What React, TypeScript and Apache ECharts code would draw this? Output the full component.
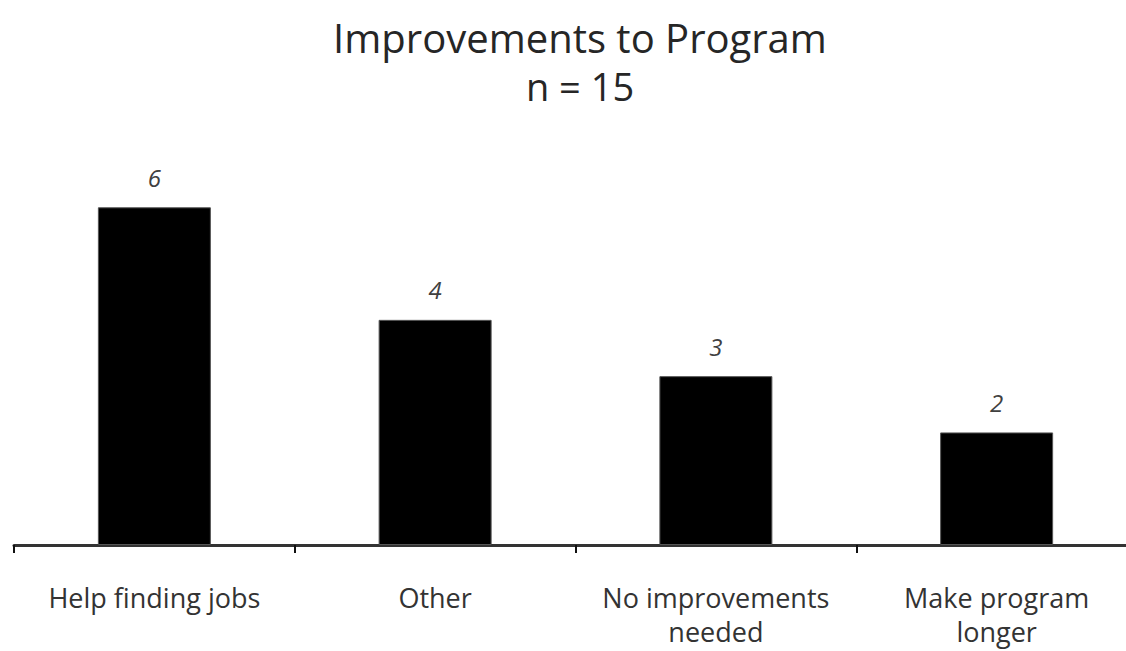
import React, { useEffect, useRef } from "react";
import * as echarts from "echarts";

const categories = ["Help finding jobs", "Other", "No improvements\nneeded", "Make program\nlonger"];
const values = [6, 4, 3, 2];
const titleText = "Improvements to Program";
const subtitleText = "n = 15";

const FONT = "'Open Sans', 'Noto Sans', sans-serif";

export default function App() {
  const ref = useRef<HTMLDivElement>(null);
  useEffect(() => {
    if (!ref.current) return;
    const chart = echarts.init(ref.current, null, { renderer: "svg" });
    chart.setOption({
      animation: false,
      backgroundColor: "#ffffff",
      title: [
        {
          text: titleText,
          left: 575,
          top: 12,
          textAlign: "center",
          textStyle: { fontFamily: FONT, fontSize: 40, fontWeight: "normal", color: "#262626" },
        },
        {
          text: subtitleText,
          left: 575,
          top: 62,
          textAlign: "center",
          textStyle: { fontFamily: FONT, fontSize: 38, fontWeight: "normal", color: "#262626" },
        },
      ],
      grid: { left: 14, right: 23, top: 151, bottom: 106, containLabel: false },
      xAxis: {
        type: "category",
        data: categories,
        axisLine: { show: true, lineStyle: { color: "#333333", width: 3 } },
        axisTick: { show: true, alignWithLabel: false, length: 8, lineStyle: { color: "#111111", width: 2 } },
        axisLabel: {
          fontFamily: FONT,
          fontSize: 27,
          color: "#333333",
          margin: 35,
          lineHeight: 34,
          interval: 0,
        },
      },
      yAxis: {
        type: "value",
        min: 0,
        max: 7,
        show: false,
        splitLine: { show: false },
      },
      series: [
        {
          type: "bar",
          data: values,
          barWidth: 113,
          itemStyle: { color: "#000000", borderColor: "#555555", borderWidth: 1 },
          label: {
            show: true,
            position: "top",
            distance: 18,
            fontFamily: FONT,
            fontSize: 24,
            fontStyle: "italic",
            color: "#404040",
          },
        },
      ],
    });
    return () => chart.dispose();
  }, []);
  return (
    <div style={{ position: "fixed", left: 0, top: 0, width: 1126, height: 651, overflow: "hidden" }}>
      <div ref={ref} style={{ width: 1160, height: 651 }} />
    </div>
  );
}
